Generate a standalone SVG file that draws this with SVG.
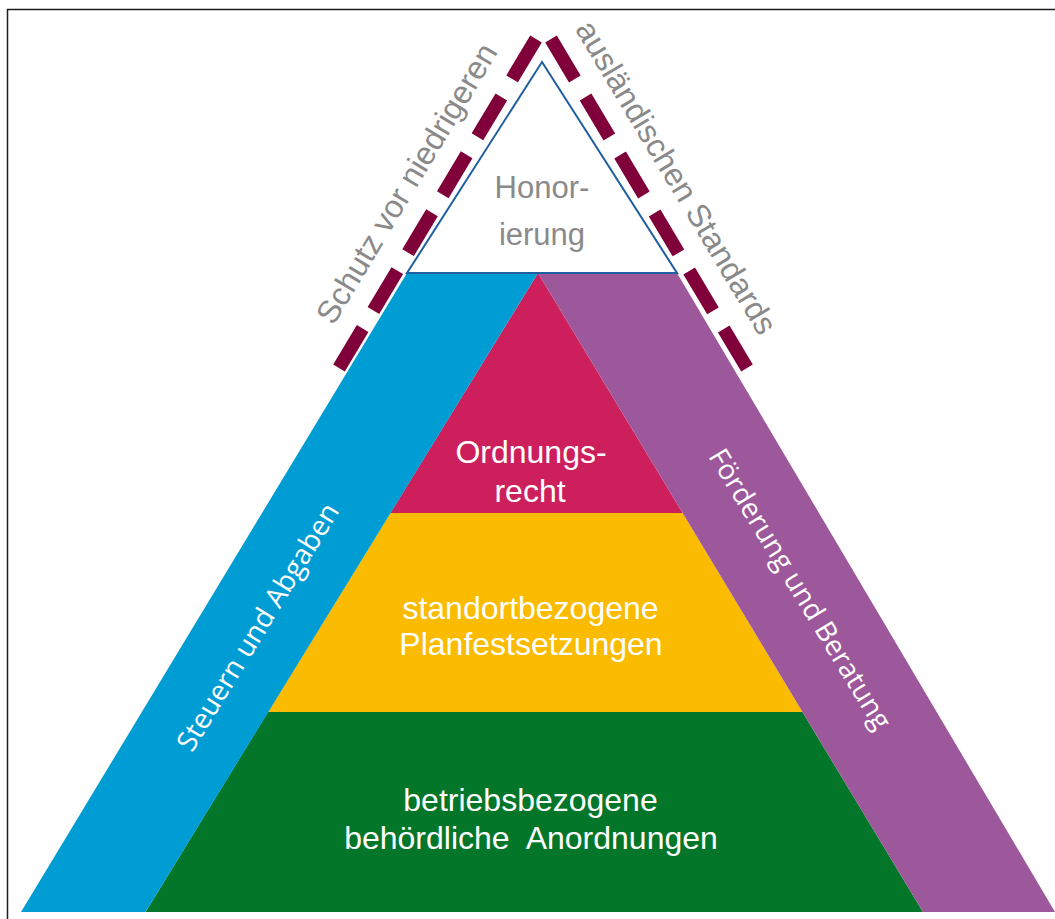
<svg xmlns="http://www.w3.org/2000/svg" width="1055" height="919" viewBox="0 0 1055 919">
<style>
.c{font-family:"Liberation Sans",Arial,sans-serif;fill:#fff;text-anchor:middle;font-size:32px}
.h{font-family:"Liberation Sans",Arial,sans-serif;fill:#8a8a8a;text-anchor:middle;font-size:31px}
.g{font-family:"Liberation Sans",Arial,sans-serif;fill:#8a8a8a;text-anchor:middle;font-size:32px}
.s{font-family:"Open Sans","Noto Sans",sans-serif;fill:#fff;text-anchor:middle;font-size:28px}
.d{stroke:#80003a;stroke-width:13.5;stroke-dasharray:46.5 21;fill:none}
</style>
<rect x="0" y="0" width="1055" height="919" fill="#fff"/>
<path d="M7.5,919 V9.5 H1055" fill="none" stroke="#1e1e1e" stroke-width="1.5"/>
<g id="betriebsbezogene">
<polygon points="268,712 802.5,712 923,912 145.5,912" fill="#037629"/>
<text class="c" x="530.5" y="811">betriebsbezogene</text>
<text class="c" x="531" y="849" xml:space="preserve">behördliche  Anordnungen</text>
</g>
<g id="standortbezogene">
<polygon points="390.4,513 682.6,513 802.5,712 268,712" fill="#fbbb00"/>
<text class="c" x="530.5" y="619">standortbezogene</text>
<text class="c" x="531" y="655">Planfestsetzungen</text>
</g>
<g id="ordnungsrecht">
<polygon points="538,273 682.6,513 390.4,513" fill="#cd1f5c"/>
<text class="c" x="531" y="463">Ordnungs-</text>
<text class="c" x="530" y="502">recht</text>
</g>
<g id="steuern">
<polygon points="407,273 538,273 145.5,912 21,912" fill="#009dd5"/>
<text class="s" transform="translate(266,632) rotate(-58.6)">Steuern und Abgaben</text>
</g>
<g id="foerderung">
<polygon points="538,273 677,273 1055,912 923,912" fill="#9d579b"/>
<text class="s" transform="translate(792,594) rotate(58.6)">Förderung und Beratung</text>
</g>
<g id="honorierung">
<polygon points="542,62 677,273 407,273" fill="#fff" stroke="#1f5f9f" stroke-width="2"/>
<text class="h" x="542" y="198">Honor-</text>
<text class="h" x="542" y="245">ierung</text>
</g>
<g id="schutz">
<line class="d" x1="536" y1="39" x2="339" y2="368"/>
<line class="d" x1="551" y1="39" x2="747" y2="368"/>
<text class="g" transform="translate(416,189) rotate(-59)">Schutz vor niedrigeren</text>
<text class="g" transform="translate(667,183) rotate(59)">ausländischen Standards</text>
</g>
</svg>
